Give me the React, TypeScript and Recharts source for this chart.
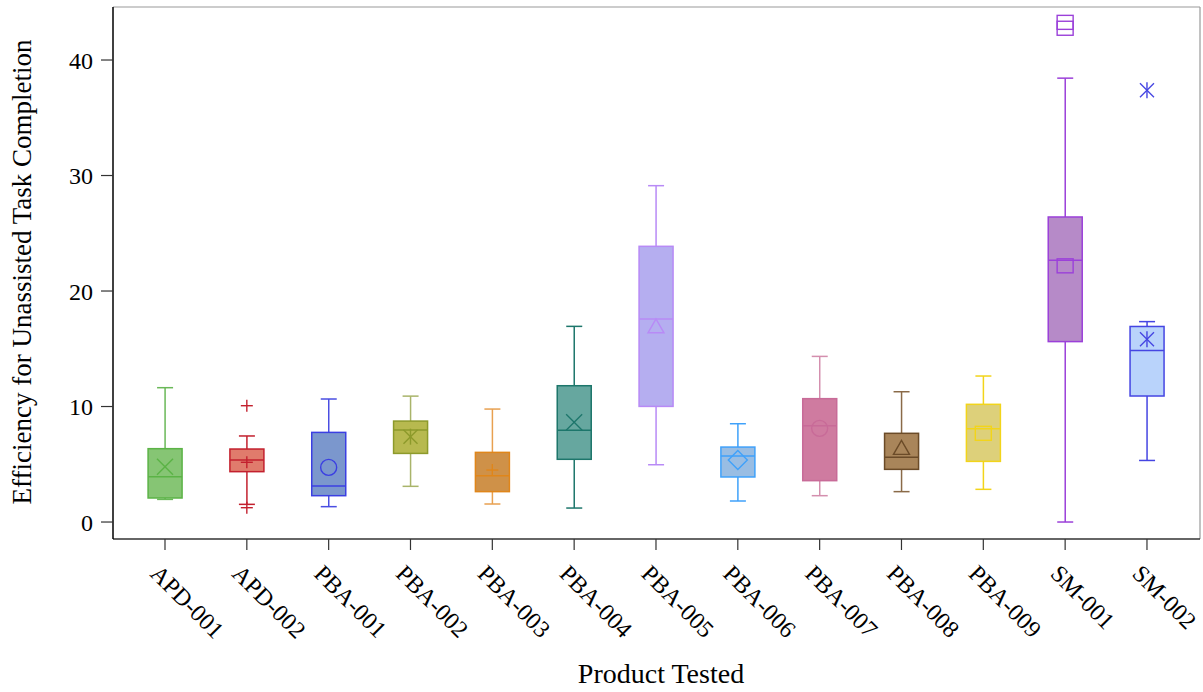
import React from 'react';
import { ComposedChart, Bar, Scatter, XAxis, YAxis, Label, CartesianGrid } from 'recharts';

const FONT = '"Liberation Serif", "Times New Roman", Times, serif';

const categories = ['APD-001', 'APD-002', 'PBA-001', 'PBA-002', 'PBA-003', 'PBA-004', 'PBA-005', 'PBA-006', 'PBA-007', 'PBA-008', 'PBA-009', 'SM-001', 'SM-002'];
const whiskerLow = [1.96, 1.53, 1.33, 3.09, 1.56, 1.21, 4.96, 1.82, 2.28, 2.63, 2.83, 0.0, 5.33];
const q1Values = [2.08, 4.36, 2.28, 5.94, 2.63, 5.43, 10.01, 3.9, 3.58, 4.56, 5.25, 15.62, 10.91];
const medianValues = [3.92, 5.37, 3.12, 7.97, 4.01, 7.94, 17.58, 5.71, 8.34, 5.6, 8.08, 22.66, 14.85];
const q3Values = [6.35, 6.32, 7.76, 8.74, 6.03, 11.8, 23.87, 6.49, 10.68, 7.68, 10.19, 26.41, 16.93];
const whiskerHigh = [11.63, 7.45, 10.65, 10.9, 9.78, 16.94, 29.12, 8.51, 14.34, 11.28, 12.64, 38.43, 17.35];
const meanValues = [4.79, 5.17, 4.73, 7.39, 4.5, 8.63, 16.9, 5.37, 8.11, 6.38, 7.68, 22.18, 15.83];
const meanMarkers = ['x', 'plus', 'circle', 'asterisk', 'plus', 'x', 'triangle', 'diamond', 'circle', 'triangle', 'square', 'square', 'asterisk'];

const outlierIndex = [1, 1, 11, 11, 12];
const outlierValues = [10.07, 1.24, 43.26, 42.75, 37.38];

const yTicks = [0, 10, 20, 30, 40];

const fillColors = ['#86c574', '#e07b6c', '#7b97cd', '#b7b94f', '#cf9148', '#66a79f', '#b5aef0', '#99bde3', '#cf7ba0', '#a9855a', '#ddd07a', '#b68ac8', '#b9d3fb'];
const strokeColors = ['#5bb346', '#c3202e', '#3b3fe2', '#8d9a2b', '#e0861a', '#1d766b', '#b88af6', '#3fa1fa', '#c86b98', '#6b4b28', '#f2d41a', '#9b40d9', '#4545e2'];
const whiskerColors = ['#6ab858', '#c3202e', '#4a4ee2', '#a9b46a', '#e8a050', '#1d766b', '#b88af6', '#3fa1fa', '#d48fae', '#8a6a48', '#f2d41a', '#9b40d9', '#4545e2'];

const boxData = categories.map((name, i) => ({
  idx: i,
  name,
  range: [whiskerLow[i], whiskerHigh[i]],
  low: whiskerLow[i],
  q1: q1Values[i],
  median: medianValues[i],
  q3: q3Values[i],
  high: whiskerHigh[i],
}));

const markerData = [
  ...meanValues.map((v, i) => ({ idx: i, value: v, marker: meanMarkers[i], color: strokeColors[i] })),
  ...outlierValues.map((v, k) => ({ idx: outlierIndex[k], value: v, marker: meanMarkers[outlierIndex[k]], color: strokeColors[outlierIndex[k]] })),
];

const BOX_W = 34;
const CAP_W = 16;

const BoxShape = (props: any) => {
  const { x, y, width, height, payload, index } = props;
  if (payload == null) return null;
  const top = Math.min(y, y + height);
  const h = Math.abs(height);
  const { low, q1, median, q3, high } = payload;
  const px = (v: number) => top + ((high - v) / (high - low)) * h;
  const cx = x + width / 2;
  const i = payload.idx ?? index;
  const stroke = strokeColors[i];
  const wc = whiskerColors[i];
  const yHigh = px(high);
  const yLow = px(low);
  const yQ1 = px(q1);
  const yQ3 = px(q3);
  const yMed = px(median);
  return (
    <g>
      <line x1={cx} x2={cx} y1={yHigh} y2={yQ3} stroke={wc} strokeWidth={1.5} />
      <line x1={cx} x2={cx} y1={yQ1} y2={yLow} stroke={wc} strokeWidth={1.5} />
      <line x1={cx - CAP_W / 2} x2={cx + CAP_W / 2} y1={yHigh} y2={yHigh} stroke={wc} strokeWidth={1.5} />
      <line x1={cx - CAP_W / 2} x2={cx + CAP_W / 2} y1={yLow} y2={yLow} stroke={wc} strokeWidth={1.5} />
      <rect x={cx - BOX_W / 2} y={yQ3} width={BOX_W} height={yQ1 - yQ3} fill={fillColors[i]} stroke={stroke} strokeWidth={1.5} />
      <line x1={cx - BOX_W / 2} x2={cx + BOX_W / 2} y1={yMed} y2={yMed} stroke={stroke} strokeWidth={1.5} />
    </g>
  );
};

const MarkerShape = (props: any) => {
  const { cx, cy, payload } = props;
  if (cx == null || cy == null || payload == null) return null;
  const c = payload.color;
  const sw = 1.4;
  switch (payload.marker) {
    case 'x':
      return (
        <g stroke={c} strokeWidth={sw} fill="none">
          <line x1={cx - 8} y1={cy - 8} x2={cx + 8} y2={cy + 8} />
          <line x1={cx - 8} y1={cy + 8} x2={cx + 8} y2={cy - 8} />
        </g>
      );
    case 'plus':
      return (
        <g stroke={c} strokeWidth={sw} fill="none">
          <line x1={cx - 6} y1={cy} x2={cx + 6} y2={cy} />
          <line x1={cx} y1={cy - 6} x2={cx} y2={cy + 6} />
        </g>
      );
    case 'asterisk':
      return (
        <g stroke={c} strokeWidth={sw} fill="none">
          <line x1={cx - 7} y1={cy - 7} x2={cx + 7} y2={cy + 7} />
          <line x1={cx - 7} y1={cy + 7} x2={cx + 7} y2={cy - 7} />
          <line x1={cx} y1={cy - 8} x2={cx} y2={cy + 8} />
        </g>
      );
    case 'circle':
      return <circle cx={cx} cy={cy} r={8} stroke={c} strokeWidth={sw} fill="none" />;
    case 'triangle':
      return <polygon points={`${cx - 8},${cy + 6} ${cx + 8},${cy + 6} ${cx},${cy - 8}`} stroke={c} strokeWidth={sw} fill="none" />;
    case 'diamond':
      return <polygon points={`${cx - 9.5},${cy} ${cx},${cy - 9.5} ${cx + 9.5},${cy} ${cx},${cy + 9.5}`} stroke={c} strokeWidth={sw} fill="none" />;
    case 'square':
      return <rect x={cx - 8} y={cy - 7} width={16} height={14} stroke={c} strokeWidth={sw} fill="none" />;
    default:
      return null;
  }
};

const XTick = (props: any) => {
  const { x, y, payload } = props;
  const ax = x - 16;
  const ay = y + 23;
  return (
    <text x={ax} y={ay} transform={`rotate(45, ${ax}, ${ay})`} fontSize={24} fontFamily={FONT} fill="#000" textAnchor="start">
      {categories[payload.value]}
    </text>
  );
};

export default function App() {
  return (
    <div style={{ position: 'absolute', left: 0, top: 0, width: 1203, height: 692, background: '#fff' }}>
      <ComposedChart width={1203} height={692} data={boxData} margin={{ top: 7, right: 3, bottom: 0, left: 0 }}>
        <CartesianGrid
          fill="none"
          stroke="#999"
          strokeWidth={1.2}
          horizontalCoordinatesGenerator={(p: any) => [p.offset.top]}
          verticalCoordinatesGenerator={(p: any) => [p.offset.left + p.offset.width]}
        />
        <XAxis
          dataKey="idx"
          type="number"
          domain={[-0.6354, 12.648]}
          ticks={[0, 1, 2, 3, 4, 5, 6, 7, 8, 9, 10, 11, 12]}
          interval={0}
          allowDataOverflow
          height={153}
          tickSize={11}
          tick={<XTick />}
          axisLine={{ stroke: '#333', strokeWidth: 1.5 }}
          tickLine={{ stroke: '#333', strokeWidth: 1.2 }}
        >
          <Label
            content={() => (
              <text x={661} y={683} textAnchor="middle" fontSize={28} fontFamily={FONT} fill="#000">
                Product Tested
              </text>
            )}
          />
        </XAxis>
        <YAxis
          type="number"
          domain={[-1.47, 44.59]}
          ticks={yTicks}
          interval={0}
          allowDataOverflow
          width={113}
          tickSize={12}
          tickMargin={8}
          tick={{ fontSize: 24, fontFamily: FONT, fill: '#000' }}
          axisLine={{ stroke: '#000', strokeWidth: 1.5 }}
          tickLine={{ stroke: '#333', strokeWidth: 1.2 }}
        >
          <Label
            content={() => (
              <text x={31} y={272} transform="rotate(-90, 31, 272)" textAnchor="middle" fontSize={27} fontFamily={FONT} fill="#000">
                Efficiency for Unassisted Task Completion
              </text>
            )}
          />
        </YAxis>
        <Bar dataKey="range" barSize={BOX_W} shape={<BoxShape />} isAnimationActive={false} />
        <Scatter data={markerData} dataKey="value" shape={<MarkerShape />} isAnimationActive={false} />
      </ComposedChart>
    </div>
  );
}
